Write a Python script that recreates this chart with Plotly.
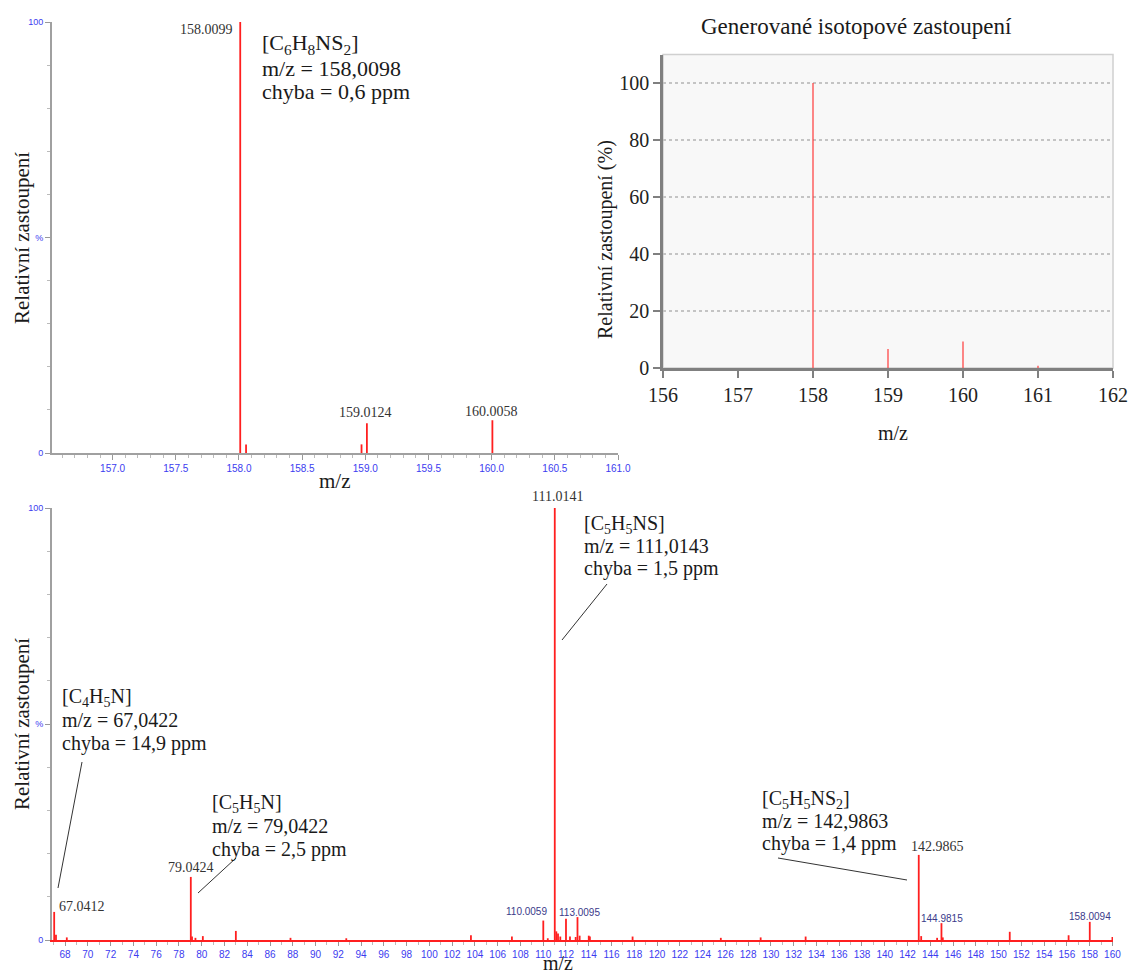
import plotly.graph_objects as go

W, H = 1130, 976

# ---------------- data ----------------
# top-left: measured spectrum around the molecular ion
tl_mz = [158.0099, 158.056, 158.970, 159.0124, 160.0058]
tl_int = [100, 2.0, 2.0, 6.9, 7.6]

# top-right: generated isotope pattern
tr_mz = [158, 159, 160, 161]
tr_int = [100, 6.7, 9.3, 0.8]

# bottom: fragment spectrum
b_mz = [67.0412, 67.2, 68.15, 79.0424, 79.15, 79.45, 80.1, 83.0, 87.8, 92.7,
        103.65, 107.25, 110.0059, 110.4, 111.0141, 111.15, 111.3, 111.5, 112.0,
        112.35, 112.85, 113.0095, 113.2, 114.0, 114.1, 117.85, 125.6, 129.1,
        133.05, 142.9865, 143.2, 144.6, 144.9815, 145.1, 150.98, 156.15,
        158.0094, 160.0]
b_int = [6.5, 1.2, 0.6, 14.6, 0.8, 0.5, 0.9, 2.1, 0.5, 0.4,
         1.1, 0.8, 4.5, 0.4, 100, 2.0, 1.5, 0.8, 4.9,
         0.8, 0.7, 5.3, 1.0, 1.0, 0.8, 0.8, 0.5, 0.6,
         0.8, 19.7, 0.9, 0.5, 3.9, 0.6, 1.9, 1.1,
         4.2, 0.7]

SERIF = "Liberation Serif"
SANS = "Liberation Sans"
RED = "#ff1f1f"
BLUE = "#3c3cf0"


def px(x):
    return x / W


def py(y):
    return 1 - y / H


def sticks(xs, hs):
    X, Y = [], []
    for x, h in zip(xs, hs):
        X += [x, x, None]
        Y += [0, h, None]
    return X, Y


fig = go.Figure()

x1, y1 = sticks(tl_mz, tl_int)
fig.add_trace(go.Scatter(x=x1, y=y1, mode="lines", line=dict(color=RED, width=1.8),
                         xaxis="x", yaxis="y", hoverinfo="skip", showlegend=False))
x2, y2 = sticks(tr_mz, tr_int)
fig.add_trace(go.Scatter(x=x2, y=y2, mode="lines", line=dict(color="#ff3a3a", width=1.2),
                         xaxis="x2", yaxis="y2", hoverinfo="skip", showlegend=False))
x3, y3 = sticks(b_mz, b_int)
fig.add_trace(go.Scatter(x=x3, y=y3, mode="lines", line=dict(color=RED, width=1.8),
                         xaxis="x3", yaxis="y3", hoverinfo="skip", showlegend=False))

small_tick_font = dict(family=SANS, size=10, color=BLUE)

left_y = dict(range=[0, 100], tickvals=[0, 50, 100], ticktext=["0", "%", "100"],
              ticks="outside", ticklen=5, tickcolor="#999", tickfont=dict(family=SANS, size=9, color=BLUE),
              showline=True, linecolor="#a0a0a0", linewidth=2, showgrid=False, zeroline=False,
              automargin=False,
              minor=dict(dtick=10, ticks="outside", ticklen=3, tickcolor="#bbb"), fixedrange=True)

fig.update_layout(
    width=W, height=H, margin=dict(l=0, r=0, t=0, b=0),
    paper_bgcolor="white", plot_bgcolor="white", showlegend=False,
    xaxis=dict(domain=[px(52), px(618)], range=[156.52, 161.0], anchor="y", automargin=False,
               tick0=157, dtick=0.5, tickformat=".1f", ticks="outside", ticklen=5, tickcolor="#999",
               tickfont=small_tick_font, showline=True, linecolor="#a0a0a0", linewidth=2,
               showgrid=False, zeroline=False,
               minor=dict(dtick=0.1, tick0=157, ticks="outside", ticklen=3, tickcolor="#bbb")),
    yaxis=dict(domain=[py(453), py(22)], anchor="x", **left_y),
    xaxis2=dict(domain=[px(663), px(1113)], range=[156, 162], anchor="y2", automargin=False,
                dtick=1, ticks="outside", ticklen=7, tickwidth=2, tickcolor="#808080",
                tickfont=dict(family=SERIF, size=20, color="#222"),
                showline=True, linecolor="#808080", linewidth=2.5,
                showgrid=False, zeroline=False),
    yaxis2=dict(domain=[py(368), py(54.5)], range=[0, 110], anchor="x2", automargin=False,
                tickvals=[0, 20, 40, 60, 80, 100], ticks="outside", ticklen=7, tickwidth=2,
                tickcolor="#808080", tickfont=dict(family=SERIF, size=20, color="#222"),
                showline=True, linecolor="#808080", linewidth=2.5,
                showgrid=True, gridcolor="#c4c4c4", griddash="dot", gridwidth=1.5,
                zeroline=False),
    xaxis3=dict(domain=[px(52), px(1113)], range=[66.85, 160.05], anchor="y3", automargin=False,
                tick0=68, dtick=2, ticks="outside", ticklen=4, tickcolor="#999",
                tickfont=small_tick_font, showline=True, linecolor=RED, linewidth=2,
                showgrid=False, zeroline=False,
                minor=dict(dtick=1, tick0=68, ticks="outside", ticklen=3, tickcolor="#bbb")),
    yaxis3=dict(domain=[py(940), py(508)], anchor="x3", **left_y),
)

# background panel of the generated pattern
fig.add_shape(type="rect", xref="x2 domain", yref="y2 domain", x0=0, x1=1, y0=0, y1=1,
              fillcolor="#f8f8f8", line=dict(color="#d0d0d0", width=1.5), layer="below")

ann = []


def text(x, y, s, size=20, fam=SERIF, color="#1a1a1a", xanchor="left", yanchor="middle", angle=0):
    ann.append(dict(x=px(x), y=py(y), xref="paper", yref="paper", text=s, showarrow=False,
                    xanchor=xanchor, yanchor=yanchor, textangle=angle,
                    font=dict(family=fam, size=size, color=color)))


# axis titles
text(22, 238, "Relativní zastoupení", size=21, xanchor="center", angle=-90)
text(335, 481, "m/z", size=21, xanchor="center")
text(22, 724, "Relativní zastoupení", size=21, xanchor="center", angle=-90)
text(558, 976, "m/z", size=20, xanchor="center", yanchor="bottom")
text(605, 240, "Relativní zastoupení (%)", xanchor="center", angle=-90)
text(893, 433, "m/z", xanchor="center")
text(856, 27, "Generované isotopové zastoupení", size=23, xanchor="center")

# formula blocks
blocks = [
    (260, 44, 22, 24, ["[C<sub>6</sub>H<sub>8</sub>NS<sub>2</sub>]", "m/z = 158,0098", "chyba = 0,6 ppm"]),
    (60, 697, 20, 23, ["[C<sub>4</sub>H<sub>5</sub>N]", "m/z = 67,0422", "chyba = 14,9 ppm"]),
    (210, 803, 20, 23, ["[C<sub>5</sub>H<sub>5</sub>N]", "m/z = 79,0422", "chyba = 2,5 ppm"]),
    (582, 524, 20, 22, ["[C<sub>5</sub>H<sub>5</sub>NS]", "m/z = 111,0143", "chyba = 1,5 ppm"]),
    (760, 799, 20, 22, ["[C<sub>5</sub>H<sub>5</sub>NS<sub>2</sub>]", "m/z = 142,9863", "chyba = 1,4 ppm"]),
]
for bx, by, fs, step, lines in blocks:
    for i, s in enumerate(lines):
        text(bx, by + i * step, s, size=fs)

# peak labels (serif)
text(235, 30, "158.0099", size=14, color="#333", xanchor="right")
text(365, 413, "159.0124", size=14, color="#333", xanchor="center")
text(491, 411, "160.0058", size=14, color="#333", xanchor="center")
text(57, 906, "67.0412", size=14, color="#333")
text(191, 867, "79.0424", size=14, color="#333", xanchor="center")
text(557, 496, "111.0141", size=14, color="#333", xanchor="center")
text(937, 846, "142.9865", size=14, color="#333", xanchor="center")

# small peak labels (sans, bluish)
for lx, ly, s in [(526, 911, "110.0059"), (579, 912, "113.0095"),
                  (942, 918, "144.9815"), (1090, 916, "158.0094")]:
    text(lx, ly, s, size=10, fam=SANS, color="#3a3a8a", xanchor="center")

fig.update_layout(annotations=ann)

# leader lines
for (xa, ya, xb, yb) in [(82, 762, 58, 888), (236, 858, 198, 893),
                         (607, 584, 562, 640), (778, 858, 907, 880)]:
    fig.add_shape(type="line", xref="paper", yref="paper", x0=px(xa), y0=py(ya),
                  x1=px(xb), y1=py(yb), line=dict(color="#333", width=1))

fig.write_html("out.html")
